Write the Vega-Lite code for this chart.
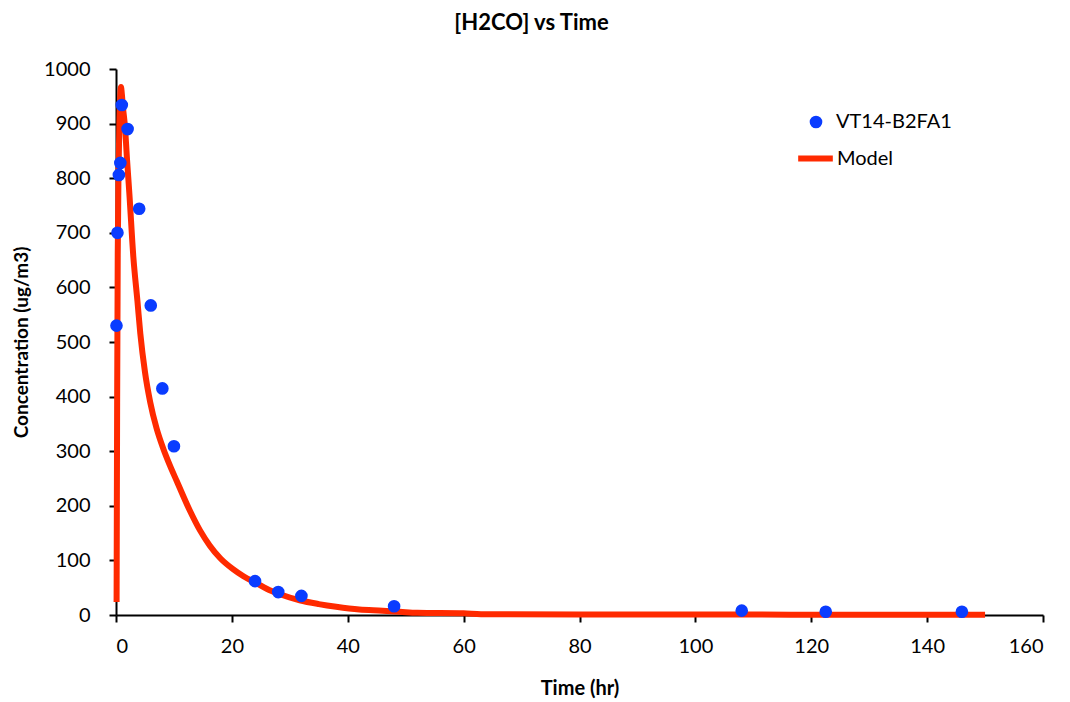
{
  "$schema": "https://vega.github.io/schema/vega-lite/v6.json",
  "width": 927,
  "height": 546,
  "autosize": "none",
  "padding": {"left": 116, "top": 69, "right": 27, "bottom": 87},
  "background": "white",
  "config": {
    "font": "Lato",
    "view": {"stroke": null},
    "axis": {"grid": false, "domainColor": "black", "domainWidth": 2, "tickColor": "black", "tickWidth": 2, "tickSize": 7, "labelFont": "Lato", "labelFontSize": 20, "labelColor": "black", "titleFont": "Lato", "titleFontSize": 20, "titleFontWeight": "bold", "titleColor": "black"}
  },
  "title": {"text": "[H2CO] vs Time", "font": "Lato", "fontSize": 22, "fontWeight": "bold", "color": "black", "anchor": "middle", "dx": -48, "offset": 24},
  "datasets": {
    "obs": [
      {"t": 0.083, "c": 530, "series": "VT14-B2FA1"},
      {"t": 0.25, "c": 700, "series": "VT14-B2FA1"},
      {"t": 0.5, "c": 806, "series": "VT14-B2FA1"},
      {"t": 0.75, "c": 828, "series": "VT14-B2FA1"},
      {"t": 1.0, "c": 934, "series": "VT14-B2FA1"},
      {"t": 2, "c": 890, "series": "VT14-B2FA1"},
      {"t": 4, "c": 744, "series": "VT14-B2FA1"},
      {"t": 6, "c": 567, "series": "VT14-B2FA1"},
      {"t": 8, "c": 415, "series": "VT14-B2FA1"},
      {"t": 10, "c": 309, "series": "VT14-B2FA1"},
      {"t": 24, "c": 62, "series": "VT14-B2FA1"},
      {"t": 28, "c": 42, "series": "VT14-B2FA1"},
      {"t": 32, "c": 35, "series": "VT14-B2FA1"},
      {"t": 48, "c": 16, "series": "VT14-B2FA1"},
      {"t": 108, "c": 8, "series": "VT14-B2FA1"},
      {"t": 122.5, "c": 6, "series": "VT14-B2FA1"},
      {"t": 146, "c": 6, "series": "VT14-B2FA1"}
    ],
    "model": [
      {"t": 0.1, "c": 24, "series": "Model"},
      {"t": 0.2, "c": 400, "series": "Model"},
      {"t": 0.3, "c": 660, "series": "Model"},
      {"t": 0.45, "c": 820, "series": "Model"},
      {"t": 0.6, "c": 910, "series": "Model"},
      {"t": 0.75, "c": 955, "series": "Model"},
      {"t": 0.86, "c": 967, "series": "Model"},
      {"t": 1.0, "c": 955, "series": "Model"},
      {"t": 1.2, "c": 930, "series": "Model"},
      {"t": 1.55, "c": 894, "series": "Model"},
      {"t": 1.9, "c": 835, "series": "Model"},
      {"t": 2.3, "c": 773, "series": "Model"},
      {"t": 3.0, "c": 655, "series": "Model"},
      {"t": 3.7, "c": 575, "series": "Model"},
      {"t": 4.2, "c": 515, "series": "Model"},
      {"t": 5.0, "c": 445, "series": "Model"},
      {"t": 5.9, "c": 390, "series": "Model"},
      {"t": 7.0, "c": 342, "series": "Model"},
      {"t": 8.15, "c": 305, "series": "Model"},
      {"t": 9.3, "c": 274, "series": "Model"},
      {"t": 10.5, "c": 245, "series": "Model"},
      {"t": 12.8, "c": 190, "series": "Model"},
      {"t": 14.5, "c": 155, "series": "Model"},
      {"t": 16.2, "c": 127, "series": "Model"},
      {"t": 18, "c": 104, "series": "Model"},
      {"t": 20.2, "c": 84, "series": "Model"},
      {"t": 22, "c": 71, "series": "Model"},
      {"t": 24.3, "c": 58, "series": "Model"},
      {"t": 26, "c": 48, "series": "Model"},
      {"t": 28.3, "c": 38, "series": "Model"},
      {"t": 31.7, "c": 27, "series": "Model"},
      {"t": 35, "c": 20, "series": "Model"},
      {"t": 38, "c": 15, "series": "Model"},
      {"t": 42, "c": 10, "series": "Model"},
      {"t": 46, "c": 8, "series": "Model"},
      {"t": 49, "c": 6, "series": "Model"},
      {"t": 52, "c": 4, "series": "Model"},
      {"t": 60, "c": 3, "series": "Model"},
      {"t": 63, "c": 1.5, "series": "Model"},
      {"t": 80, "c": 1, "series": "Model"},
      {"t": 150, "c": 0.5, "series": "Model"}
    ]
  },
  "layer": [
    {
      "data": {"name": "model"},
      "mark": {"type": "line", "strokeWidth": 6, "interpolate": "monotone", "clip": false},
      "encoding": {
        "x": {"field": "t", "type": "quantitative", "scale": {"domain": [0, 160], "nice": false, "zero": false}, "axis": {"values": [0, 20, 40, 60, 80, 100, 120, 140, 160], "format": "d", "title": "Time (hr)", "titlePadding": 22, "labelPadding": 14}},
        "y": {"field": "c", "type": "quantitative", "scale": {"domain": [0, 1000], "nice": false}, "axis": {"values": [0, 100, 200, 300, 400, 500, 600, 700, 800, 900, 1000], "format": "d", "title": "Concentration (ug/m3)", "titlePadding": 12, "titleFontSize": 19, "labelPadding": 19}},
        "stroke": {"field": "series", "type": "nominal", "scale": {"domain": ["Model"], "range": ["#FF2A00"]}, "legend": {"title": null, "orient": "none", "legendX": 679, "legendY": 69, "labelFont": "Lato", "labelFontSize": 20, "labelColor": "black", "symbolType": "stroke", "symbolSize": 1200, "symbolStrokeWidth": 6, "labelOffset": 1}}
      }
    },
    {
      "data": {"name": "obs"},
      "mark": {"type": "point", "filled": true, "size": 160, "opacity": 1},
      "encoding": {
        "x": {"field": "t", "type": "quantitative"},
        "y": {"field": "c", "type": "quantitative"},
        "fill": {"field": "series", "type": "nominal", "scale": {"domain": ["VT14-B2FA1"], "range": ["#0A3CFF"]}, "legend": {"title": null, "orient": "none", "legendX": 690, "legendY": 43, "labelFont": "Lato", "labelFontSize": 20, "labelColor": "black", "symbolType": "circle", "symbolSize": 160, "labelOffset": 10}}
      }
    }
  ]
}
